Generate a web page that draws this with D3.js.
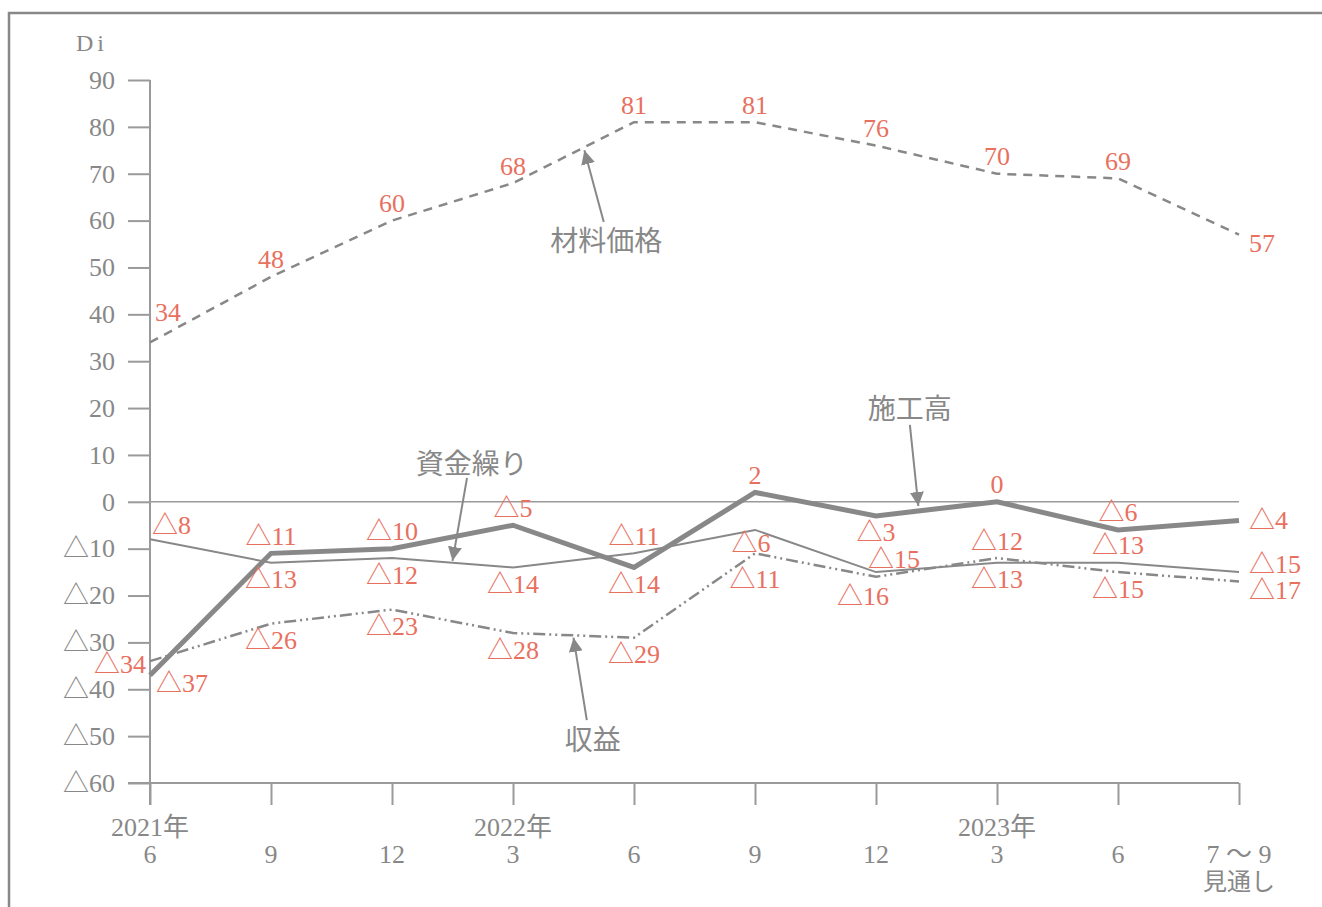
<!DOCTYPE html>
<html>
<head>
<meta charset="utf-8">
<script src="https://cdn.jsdelivr.net/npm/d3@7"></script>
<style>
  body { margin: 0; background: #fff; }
  svg text { font-family: 'Liberation Serif', 'Noto Sans CJK JP', serif; }
</style>
</head>
<body>
<svg id="canvas" width="1322" height="907"></svg>
<script>
/***********************************************************************/
// Data

var periods = ['6', '9', '12', '3', '6', '9', '12', '3', '6', '7 ～ 9'];
var yearLabels = ['2021年', '', '', '2022年', '', '', '', '2023年', '', ''];
var bottomLabels = ['', '', '', '', '', '', '', '', '', '見通し'];

var yTicks = [90, 80, 70, 60, 50, 40, 30, 20, 10, 0, -10, -20, -30, -40, -50, -60];

var zairyo = [34, 48, 60, 68, 81, 81, 76, 70, 69, 57];      // 材料価格
var sekou = [-37, -11, -10, -5, -14, 2, -3, 0, -6, -4];      // 施工高
var shikin = [-8, -13, -12, -14, -11, -6, -15, -13, -13, -15]; // 資金繰り
var shueki = [-34, -26, -23, -28, -29, -11, -16, -12, -15, -17]; // 収益

// where each value label sits relative to its point
var zairyoPlace = ['hi', 'a', 'a', 'a', 'a', 'a', 'a', 'a', 'a', 'rd'];
var sekouPlace = ['lo', 'a', 'a', 'a', 'b', 'a', 'b', 'a', 'a', 'r'];
var shikinPlace = ['mid', 'b', 'b', 'b', 'a', 'bs', 'ar', 'b', 'a', 'ru'];
var shuekiPlace = ['l', 'b', 'b', 'b', 'b', 'bb', 'bl', 'a', 'b', 'rd'];

// callouts: text position and arrow in data units (x = period index, y = Di)
var callouts = [
  { text: '材料価格', tx: 3.77, ty: 56,    x1: 3.75, y1: 59.7,  x2: 3.59, y2: 75 },
  { text: '施工高',   tx: 6.28, ty: 20.2,  x1: 6.28, y1: 16.4,  x2: 6.35, y2: -0.9 },
  { text: '資金繰り', tx: 2.66, ty: 8.5,   x1: 2.62, y1: 5.1,   x2: 2.50, y2: -12.6 },
  { text: '収益',     tx: 3.66, ty: -50.4, x1: 3.61, y1: -46.6, x2: 3.50, y2: -29 }
];

/***********************************************************************/
// Setup

var grey = '#888888', axisGrey = '#9a9a9a', red = '#e8705f';
var plotLeft = 150, plotRight = 1239, plotTop = 80, plotBottom = 783;
var fontSize = '26px';

var svg = d3.select('#canvas');

var xScale = d3.scaleLinear().domain([0, periods.length - 1]).range([plotLeft, plotRight]);
var yScale = d3.scaleLinear().domain([90, -60]).range([plotTop, plotBottom]);

var fmt = v => v < 0 ? '△' + (-v) : '' + v;

var place = {
  a: [0, -17, 'middle'], b: [0, 17, 'middle'], bs: [-4, 14, 'middle'], bb: [0, 26, 'middle'],
  r: [10, 0, 'start'], ru: [10, -8, 'start'], rd: [10, 9, 'start'],
  l: [-4, 3, 'end'], ar: [18, -13, 'middle'], bl: [-13, 20, 'middle'],
  hi: [5, -30, 'start'], lo: [6, 8, 'start'], mid: [2, -14, 'start']
};

// frame
svg.append('path').attr('d', 'M9,930 L9,13 L1340,13')
  .style('fill', 'none').style('stroke', grey).style('stroke-width', 2.5);

/***********************************************************************/
// Axes

var yAxis = svg.append('g').attr('transform', 'translate(' + plotLeft + ',0)')
  .call(d3.axisLeft(yScale).tickValues(yTicks).tickSize(22).tickPadding(13).tickFormat(fmt));
yAxis.select('.domain').remove();
yAxis.selectAll('line').style('stroke', axisGrey).style('stroke-width', 2);
yAxis.selectAll('text').style('fill', grey).style('font-size', fontSize);

svg.append('line').attr('x1', plotLeft).attr('x2', plotLeft).attr('y1', plotTop).attr('y2', plotBottom + 22)
  .style('stroke', axisGrey).style('stroke-width', 2);

var xAxis = svg.append('g').attr('transform', 'translate(0,' + plotBottom + ')')
  .call(d3.axisBottom(xScale).tickValues(d3.range(periods.length)).tickSize(22).tickFormat(''));
xAxis.select('.domain').remove();
xAxis.selectAll('line').style('stroke', axisGrey).style('stroke-width', 2);

svg.append('line').attr('x1', plotLeft - 22).attr('x2', plotRight).attr('y1', plotBottom).attr('y2', plotBottom)
  .style('stroke', axisGrey).style('stroke-width', 2);

// zero line
svg.append('line').attr('x1', plotLeft).attr('x2', plotRight).attr('y1', yScale(0)).attr('y2', yScale(0))
  .style('stroke', axisGrey).style('stroke-width', 1.5);

var xText = [[yearLabels, 827, fontSize], [periods, 854, fontSize], [bottomLabels, 882, '24px']];
xText.forEach(row => {
  svg.append('g').selectAll('text').data(row[0]).enter().append('text')
    .attr('x', (d, i) => xScale(i)).attr('y', row[1])
    .attr('text-anchor', 'middle').attr('dominant-baseline', 'central')
    .style('fill', grey).style('font-size', row[2])
    .text(d => d);
});

svg.append('text').attr('x', 92).attr('y', 43).attr('text-anchor', 'middle').attr('dominant-baseline', 'central')
  .style('fill', grey).style('font-size', '24px').style('letter-spacing', '4px').text('Di');

/***********************************************************************/
// Lines

var line = d3.line().x((d, i) => xScale(i)).y(d => yScale(d));

var series = [
  { values: zairyo, place: zairyoPlace, width: 2.5, dash: '9,7' },
  { values: shikin, place: shikinPlace, width: 2, dash: null },
  { values: shueki, place: shuekiPlace, width: 2.5, dash: '12,4,2,4,2,4' },
  { values: sekou, place: sekouPlace, width: 5, dash: null }
];

series.forEach(s => {
  svg.append('path').datum(s.values).attr('d', line)
    .style('fill', 'none').style('stroke', grey).style('stroke-width', s.width)
    .style('stroke-dasharray', s.dash).style('stroke-linejoin', 'miter');
});

series.forEach(s => {
  svg.append('g').selectAll('text').data(s.values).enter().append('text')
    .attr('x', (d, i) => xScale(i) + place[s.place[i]][0])
    .attr('y', (d, i) => yScale(d) + place[s.place[i]][1])
    .attr('text-anchor', (d, i) => place[s.place[i]][2])
    .attr('dominant-baseline', 'central')
    .style('fill', red).style('font-size', fontSize)
    .text(fmt);
});

/***********************************************************************/
// Callouts

svg.append('defs').append('marker').attr('id', 'arrow')
  .attr('viewBox', '0 0 10 10').attr('refX', 10).attr('refY', 5)
  .attr('markerWidth', 7).attr('markerHeight', 7).attr('markerUnits', 'strokeWidth')
  .attr('orient', 'auto')
  .append('path').attr('d', 'M0,0 L10,5 L0,10 Z').style('fill', grey);

callouts.forEach(c => {
  svg.append('line')
    .attr('x1', xScale(c.x1)).attr('y1', yScale(c.y1))
    .attr('x2', xScale(c.x2)).attr('y2', yScale(c.y2))
    .style('stroke', grey).style('stroke-width', 2).attr('marker-end', 'url(#arrow)');
  svg.append('text').attr('x', xScale(c.tx)).attr('y', yScale(c.ty))
    .attr('text-anchor', 'middle').attr('dominant-baseline', 'central')
    .style('fill', grey).style('font-size', '28px')
    .style('font-family', "'Noto Sans CJK JP', sans-serif")
    .text(c.text);
});
</script>
</body>
</html>
